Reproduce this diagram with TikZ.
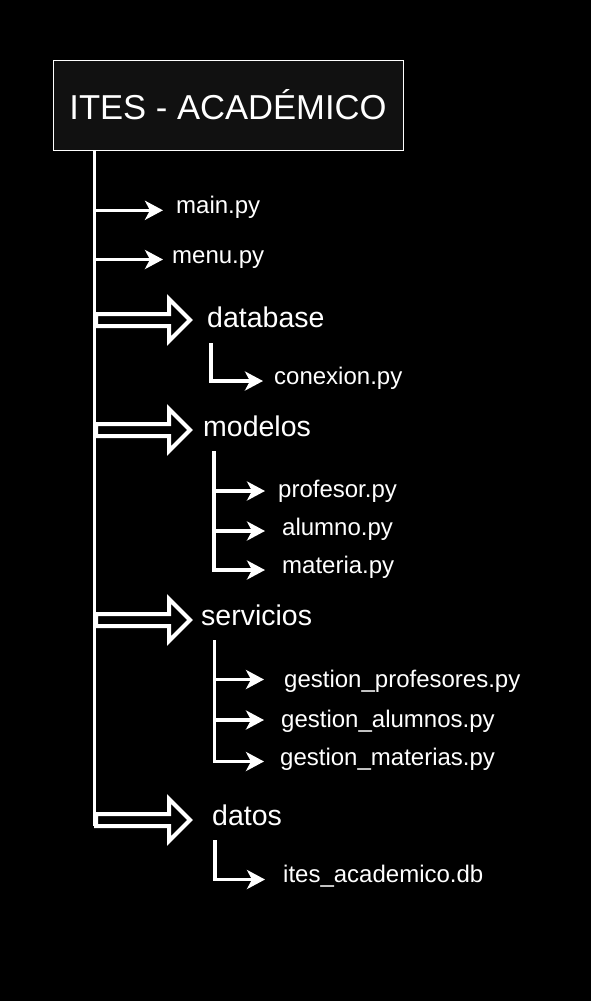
\documentclass[tikz,border=0pt]{standalone}
\usepackage{fontspec}
\setmainfont{Liberation Sans}
\usetikzlibrary{arrows.meta}
\definecolor{boxfill}{RGB}{17,17,17}
\begin{document}
\begin{tikzpicture}[x=1pt,y=-1pt,
  conn/.style={white,line width=3.5pt,line join=miter,-{Stealth[length=18pt,width=19pt,inset=5pt]}},
  tree/.style={white,line width=3.5pt},
  file/.style={text=white,font=\fontsize{24}{28}\selectfont,anchor=base west,inner sep=0pt},
  folder/.style={text=white,font=\fontsize{28.5}{32}\selectfont,anchor=base west,inner sep=0pt},
  blockarr/.pic={\draw[white,line width=4pt,fill=black,line join=miter,miter limit=10]
     (0,-6) -- (73,-6) -- (73,-21) -- (94,0) -- (73,21) -- (73,6) -- (0,6) -- cycle;}]
\fill[black] (0,0) rectangle (591,1001);
\useasboundingbox (0,0) rectangle (591,1001);

% title
\node[draw=white,line width=1pt,fill=boxfill,minimum width=350pt,minimum height=90pt,
      inner sep=0pt,text height=27pt,text depth=0pt,text=white,
      font=\fontsize{34.6}{40}\selectfont] (title) at (228,105.5) {ITES - ACADÉMICO};

% trunk
\coordinate (trunktop) at (94.5,150);
\coordinate (trunkend) at (94.5,826);
\draw[tree] (title.south -| trunktop) -- (trunkend);

% main.py, menu.py
\coordinate (tmain) at (94.5,210.3);
\coordinate (tmainend) at (163,210.3);
\coordinate (tmenu) at (94.5,259.5);
\coordinate (tmenuend) at (163,259.5);
\draw[conn] (tmain) -- (tmainend);
\draw[conn] (tmenu) -- (tmenuend);
\node[file] (mainpy) at (176,213) {main.py};
\node[file] (menupy) at (172,263) {menu.py};

% block arrows
\pic at (96,320) {blockarr};
\pic at (96,430) {blockarr};
\pic at (96,620) {blockarr};
\pic at (96,820) {blockarr};

\node[folder] (database) at (207,327) {database};
\node[folder] (modelos) at (203,436) {modelos};
\node[folder] (servicios) at (201,625) {servicios};
\node[folder] (datos) at (212,825) {datos};

% database subtree
\coordinate (dbtop) at (211,343);
\coordinate (dbtip) at (263,381);
\draw[conn] (dbtop) |- (dbtip);
\node[file] (conexion) at (274,384) {conexion.py};

% modelos subtree
\coordinate (motop) at (214,451);
\coordinate (mob1) at (214,491);
\coordinate (mob2) at (214,531);
\coordinate (motip1) at (265,491);
\coordinate (motip2) at (265,531);
\coordinate (motip3) at (265,570);
\draw[conn] (motop) |- (motip3);
\draw[conn] (mob1) -- (motip1);
\draw[conn] (mob2) -- (motip2);
\node[file] (profesor) at (278,497) {profesor.py};
\node[file] (alumno) at (282,535) {alumno.py};
\node[file] (materia) at (282,573) {materia.py};

% servicios subtree
\coordinate (setop) at (214.7,640);
\coordinate (seb1) at (214.7,679.5);
\coordinate (seb2) at (214.7,720);
\coordinate (setip1) at (264,679.5);
\coordinate (setip2) at (264,720);
\coordinate (setip3) at (264,761.5);
\draw[conn] (setop) |- (setip3);
\draw[conn] (seb1) -- (setip1);
\draw[conn] (seb2) -- (setip2);
\node[file] (gprof) at (284,687) {gestion\_profesores.py};
\node[file] (galum) at (281,727) {gestion\_alumnos.py};
\node[file] (gmat) at (280,765) {gestion\_materias.py};

% datos subtree
\coordinate (dttop) at (215,840);
\coordinate (dttip) at (265,879.5);
\draw[conn] (dttop) |- (dttip);
\node[file] (itesdb) at (283,882) {ites\_academico.db};
\end{tikzpicture}
\end{document}
